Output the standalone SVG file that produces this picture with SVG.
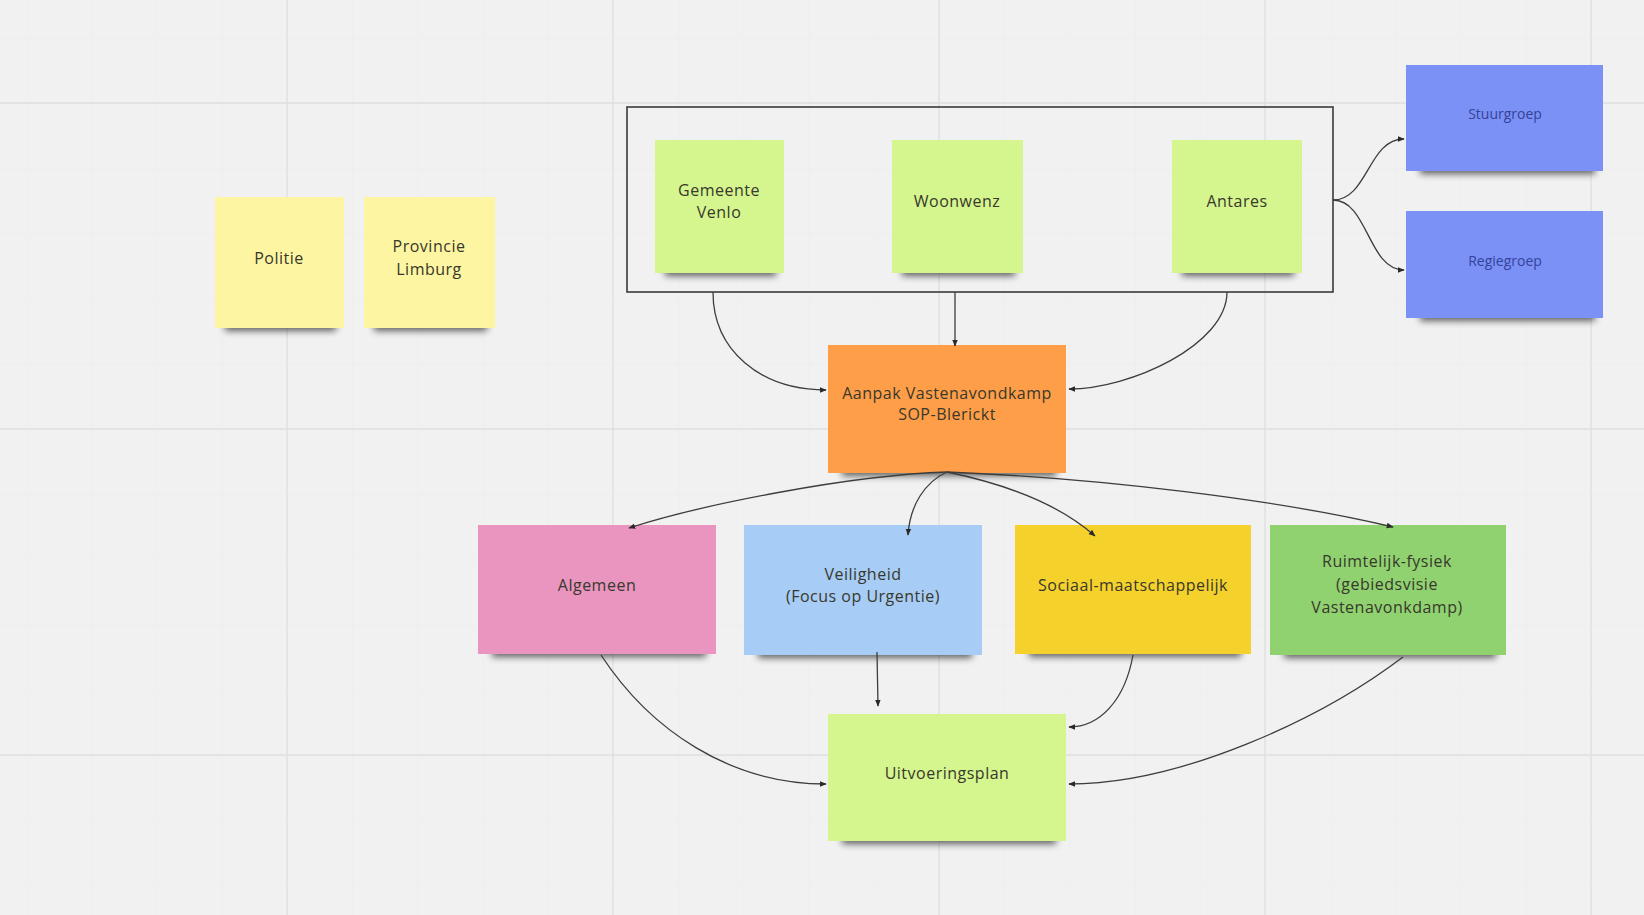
<svg xmlns="http://www.w3.org/2000/svg" width="1644" height="915" viewBox="0 0 1644 915">
<defs>
<style>
.minor{stroke:#EBEBEB;stroke-width:1}
.major{stroke:#DFDFDF;stroke-width:1.3}
.t{font-family:"Open Sans","Noto Sans","Liberation Sans",sans-serif;font-size:16px;letter-spacing:0.5px;text-anchor:middle;fill:#38382c}
.tb{fill:#34439a;font-size:14px;letter-spacing:0}
.edge{fill:none;stroke:#3d3d3d;stroke-width:1.3}
.shadow{fill:#000;opacity:0.6}
</style>
<filter id="blur" x="-20%" y="-100%" width="140%" height="300%"><feGaussianBlur stdDeviation="3.5"/></filter>
<marker id="ah" viewBox="0 0 10 10" refX="9" refY="5" markerWidth="7" markerHeight="7" orient="auto" markerUnits="userSpaceOnUse"><path d="M0,1 L10,5 L0,9 z" fill="#2a2a2a"/></marker>
<pattern id="mg" x="287" y="103" width="65.2" height="65.2" patternUnits="userSpaceOnUse"><path d="M0,0 H65.2 M0,0 V65.2" class="minor" fill="none"/></pattern>
</defs>
<rect width="1644" height="915" fill="#F1F1F1"/>
<rect width="1644" height="915" fill="url(#mg)"/>
<g id="grid">
<path class="major" d="M287,0V915 M613,0V915 M939,0V915 M1265,0V915 M1591,0V915 M0,103H1644 M0,429H1644 M0,755H1644"/>
</g>

<g id="politie">
<rect class="shadow" x="225" y="318" width="111" height="13" filter="url(#blur)"/>
<rect x="215" y="197" width="129" height="131" fill="#FDF5A1"/>
<text class="t" x="279" y="264">Politie</text>
</g>
<g id="provincie-limburg">
<rect class="shadow" x="374" y="318" width="113" height="13" filter="url(#blur)"/>
<rect x="364" y="197" width="131" height="131" fill="#FDF5A1"/>
<text class="t" x="429" y="252">Provincie</text>
<text class="t" x="429" y="275">Limburg</text>
</g>

<g id="partners-group">
<rect x="627" y="107" width="706" height="185" fill="none" stroke="#3a3a3a" stroke-width="1.6"/>
</g>
<g id="gemeente-venlo">
<rect class="shadow" x="665" y="263" width="111" height="13" filter="url(#blur)"/>
<rect x="655" y="140" width="129" height="133" fill="#D5F58E"/>
<text class="t" x="719" y="196">Gemeente</text>
<text class="t" x="719" y="218">Venlo</text>
</g>
<g id="woonwenz">
<rect class="shadow" x="902" y="263" width="113" height="13" filter="url(#blur)"/>
<rect x="892" y="140" width="131" height="133" fill="#D5F58E"/>
<text class="t" x="957" y="207">Woonwenz</text>
</g>
<g id="antares">
<rect class="shadow" x="1182" y="263" width="112" height="13" filter="url(#blur)"/>
<rect x="1172" y="140" width="130" height="133" fill="#D5F58E"/>
<text class="t" x="1237" y="207">Antares</text>
</g>

<g id="stuurgroep">
<rect class="shadow" x="1420" y="161" width="175" height="13" filter="url(#blur)"/>
<rect x="1406" y="65" width="197" height="106" fill="#7B91F5"/>
<text class="t tb" x="1505" y="119">Stuurgroep</text>
</g>
<g id="regiegroep">
<rect class="shadow" x="1420" y="308" width="175" height="13" filter="url(#blur)"/>
<rect x="1406" y="211" width="197" height="107" fill="#7B91F5"/>
<text class="t tb" x="1505" y="266">Regiegroep</text>
</g>

<g id="aanpak">
<rect class="shadow" x="842" y="463" width="214" height="13" filter="url(#blur)"/>
<rect x="828" y="345" width="238" height="128" fill="#FF9E48"/>
<text class="t" x="947" y="399">Aanpak Vastenavondkamp</text>
<text class="t" x="947" y="420">SOP-Blerickt</text>
</g>

<g id="algemeen">
<rect class="shadow" x="492" y="644" width="214" height="13" filter="url(#blur)"/>
<rect x="478" y="525" width="238" height="129" fill="#EA95BF"/>
<text class="t" x="597" y="591">Algemeen</text>
</g>
<g id="veiligheid">
<rect class="shadow" x="758" y="645" width="214" height="13" filter="url(#blur)"/>
<rect x="744" y="525" width="238" height="130" fill="#A7CCF5"/>
<text class="t" x="863" y="580">Veiligheid</text>
<text class="t" x="863" y="602">(Focus op Urgentie)</text>
</g>
<g id="sociaal-maatschappelijk">
<rect class="shadow" x="1029" y="644" width="212" height="13" filter="url(#blur)"/>
<rect x="1015" y="525" width="236" height="129" fill="#F5D12C"/>
<text class="t" x="1133" y="591">Sociaal-maatschappelijk</text>
</g>
<g id="ruimtelijk-fysiek">
<rect class="shadow" x="1284" y="645" width="212" height="13" filter="url(#blur)"/>
<rect x="1270" y="525" width="236" height="130" fill="#90D270"/>
<text class="t" x="1387" y="567">Ruimtelijk-fysiek</text>
<text class="t" x="1387" y="590">(gebiedsvisie</text>
<text class="t" x="1387" y="613">Vastenavonkdamp)</text>
</g>

<g id="uitvoeringsplan">
<rect class="shadow" x="842" y="831" width="214" height="13" filter="url(#blur)"/>
<rect x="828" y="714" width="238" height="127" fill="#D5F58E"/>
<text class="t" x="947" y="779">Uitvoeringsplan</text>
</g>

<g id="connectors">
<path class="edge" marker-end="url(#ah)" d="M713,292 C713,350 760,390 826,390"/>
<path class="edge" marker-end="url(#ah)" d="M955,292 L955,346"/>
<path class="edge" marker-end="url(#ah)" d="M1227,292 C1227,345 1130,389 1069,389"/>
<path class="edge" marker-end="url(#ah)" d="M1333,200 C1368,200 1368,139 1404,139"/>
<path class="edge" marker-end="url(#ah)" d="M1333,200 C1368,200 1368,270 1404,270"/>
<path class="edge" marker-end="url(#ah)" d="M947,472 C850,475 700,505 629,528"/>
<path class="edge" marker-end="url(#ah)" d="M947,472 C925,482 910,505 908,535"/>
<path class="edge" marker-end="url(#ah)" d="M947,472 C1010,485 1060,505 1095,536"/>
<path class="edge" marker-end="url(#ah)" d="M947,472 C1100,478 1280,500 1393,527"/>
<path class="edge" marker-end="url(#ah)" d="M601,655 C650,730 730,784 826,784"/>
<path class="edge" marker-end="url(#ah)" d="M877,652 L878,706"/>
<path class="edge" marker-end="url(#ah)" d="M1133,655 C1125,700 1100,727 1069,727"/>
<path class="edge" marker-end="url(#ah)" d="M1403,657 C1320,720 1180,784 1069,784"/>
</g>
</svg>
